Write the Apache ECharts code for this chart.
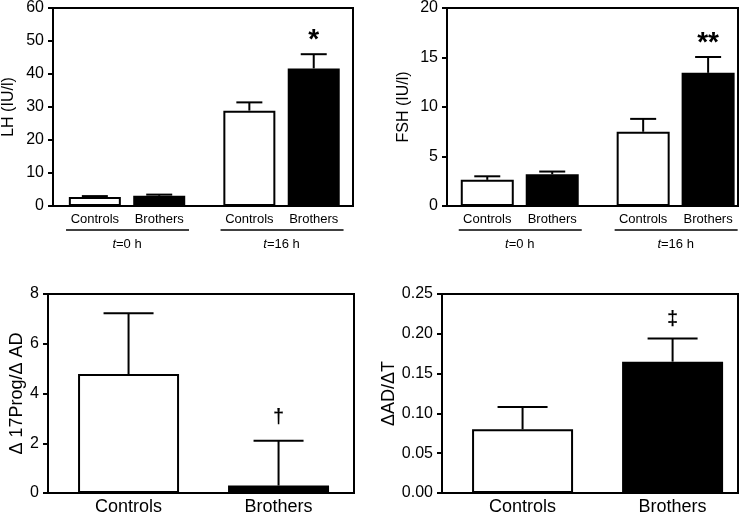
<!DOCTYPE html>
<html>
<head>
<meta charset="utf-8">
<script src="https://cdn.jsdelivr.net/npm/echarts@6/dist/echarts.min.js"></script>
<style>html,body{margin:0;padding:0;background:#fff}#c{width:750px;height:516px}</style>
</head>
<body>
<div id="c"></div>
<script>
// ---------- DATA ----------
const topCategories = ['Controls', 'Brothers', 'Controls', 'Brothers'];
const topGroups = ['t=0 h', 't=16 h'];
const lhMean = [2.7, 3.1, 28.9, 41.7];
const lhSem = [0.3, 0.35, 2.5, 4.3];
const lhMarks = ['', '', '', '*'];
const fshMean = [2.64, 3.2, 7.5, 13.45];
const fshSem = [0.36, 0.28, 1.3, 1.6];
const fshMarks = ['', '', '', '**'];
const bottomCategories = ['Controls', 'Brothers'];
const progMean = [4.78, 0.3];
const progSem = [2.45, 1.8];
const progMarks = ['', '\u2020'];
const adtMean = [0.08, 0.165];
const adtSem = [0.028, 0.029];
const adtMarks = ['', '\u2021'];
const lhTicks = [0, 60, 10];
const fshTicks = [0, 20, 5];
const progTicks = [0, 8, 2];
const adtTicks = [0, 0.25, 0.05];

// ---------- LAYOUT ----------
const FONT = '"Liberation Sans", Arial, sans-serif';

const panels = [
  {grid:{left:50, top:6, width:303, height:200}, cats:topCategories, groups:topGroups, mean:lhMean, sem:lhSem, marks:lhMarks,
   ticks:lhTicks, dec:0, name:'LH (IU/l)', nameGap:36, nameSize:16, start:0.65, groupGap:0.4, xMax:4.66, barPx:52, capPx:26,
   catSize:13, markSize:28, markOff:14},
  {grid:{left:447, top:7, width:291, height:199}, cats:topCategories, groups:topGroups, mean:fshMean, sem:fshSem, marks:fshMarks,
   ticks:fshTicks, dec:0, name:'FSH (IU/l)', nameGap:35, nameSize:16, start:0.62, groupGap:0.4, xMax:4.48, barPx:53, capPx:26,
   catSize:13, markSize:28, markOff:14},
  {grid:{left:48, top:294, width:306, height:201}, cats:bottomCategories, groups:null, mean:progMean, sem:progSem, marks:progMarks,
   ticks:progTicks, dec:0, name:'\u0394 17Prog/\u0394 AD', nameGap:22, nameSize:18, start:0.537, groupGap:0, xMax:2.04, barPx:101, capPx:50,
   catSize:18, markSize:20, markOff:23},
  {grid:{left:442, top:294, width:296, height:201}, cats:bottomCategories, groups:null, mean:adtMean, sem:adtSem, marks:adtMarks,
   ticks:adtTicks, dec:2, name:'\u0394AD/\u0394T', nameGap:41, nameSize:18, start:0.537, groupGap:0, xMax:1.973, barPx:101, capPx:50,
   catSize:18, markSize:20, markOff:19}
];

const grids = [], xAxes = [], yAxes = [], series = [];

panels.forEach((p, pi) => {
  const n = p.cats.length;
  const perGroup = p.groups ? 2 : n;
  const pos = p.cats.map((c, i) => p.start + i + Math.floor(i / perGroup) * p.groupGap);
  const colors = p.cats.map((c, i) => (i % 2 === 0 ? '#ffffff' : '#000000'));
  grids.push(Object.assign({show:true, borderColor:'#000', borderWidth:2, backgroundColor:'transparent'}, p.grid));

  const xi = xAxes.length;
  xAxes.push({
    gridIndex: pi, type:'value', min:0, max:p.xMax, position:'bottom',
    axisLine:{show:true, lineStyle:{color:'#000', width:2}},
    axisTick:{show:false}, splitLine:{show:false},
    axisLabel:{customValues: pos, color:'#000', fontFamily:FONT, fontSize:p.catSize, margin:p.groups ? 7 : 5,
      formatter: v => { const k = pos.findIndex(q => Math.abs(q - v) < 1e-6); return k >= 0 ? p.cats[k] : ''; }}
  });
  let groupCenters = [];
  if (p.groups) {
    groupCenters = p.groups.map((g, gi) => (pos[gi * 2] + pos[gi * 2 + 1]) / 2);
    xAxes.push({
      gridIndex: pi, type:'value', min:0, max:p.xMax, position:'bottom', offset:30,
      axisLine:{show:false}, axisTick:{show:false}, splitLine:{show:false},
      axisLabel:{customValues: groupCenters, color:'#000', fontFamily:FONT, fontSize:13, margin:2,
        formatter: v => { const k = groupCenters.findIndex(q => Math.abs(q - v) < 1e-6); if (k < 0) return ''; const s = p.groups[k]; return '{i|' + s.charAt(0) + '}' + s.slice(1); },
        rich:{i:{fontStyle:'italic', fontFamily:FONT, fontSize:13, color:'#000'}}}
    });
  }
  yAxes.push({
    gridIndex: pi, type:'value', min:p.ticks[0], max:p.ticks[1], interval:p.ticks[2],
    name:p.name, nameLocation:'middle', nameGap:p.nameGap, nameRotate:90,
    nameTextStyle:{color:'#000', fontFamily:FONT, fontSize:p.nameSize},
    axisLine:{show:true, lineStyle:{color:'#000', width:2}},
    axisTick:{show:true, inside:false, length:5, lineStyle:{color:'#000', width:2}},
    splitLine:{show:false},
    axisLabel:{color:'#000', fontFamily:FONT, fontSize:16, margin:9, formatter: v => v.toFixed(p.dec)}
  });

  series.push({
    type:'bar', xAxisIndex:xi, yAxisIndex:pi, barWidth:p.barPx, z:2,
    data: p.mean.map((m, i) => ({value:[pos[i], m], itemStyle:{color:colors[i], borderColor:'#000', borderWidth:2}})),
    emphasis:{disabled:true}, silent:true
  });

  series.push({
    type:'custom', xAxisIndex:xi, yAxisIndex:pi, z:3, clip:false, silent:true,
    data: p.mean.map((m, i) => [pos[i], m, p.sem[i]]),
    renderItem: (params, api) => {
      const x = api.value(0), v = api.value(1), e = api.value(2);
      const b = api.coord([x, v]);
      const t = api.coord([x, v + e]);
      const h = p.capPx / 2;
      const ch = [
        {type:'line', shape:{x1:b[0], y1:b[1], x2:t[0], y2:t[1]}, style:{stroke:'#000', lineWidth:2}},
        {type:'line', shape:{x1:t[0] - h, y1:t[1], x2:t[0] + h, y2:t[1]}, style:{stroke:'#000', lineWidth:2}}
      ];
      const mk = p.marks[params.dataIndex];
      if (mk) {
        ch.push({type:'text', style:{text:mk, x:t[0], y:t[1] - p.markOff, align:'center', verticalAlign:'middle',
          fill:'#000', font:'bold ' + p.markSize + 'px ' + FONT}});
      }
      return {type:'group', children:ch};
    }
  });

  if (p.groups) {
    series.push({
      type:'custom', xAxisIndex:xi, yAxisIndex:pi, z:3, clip:false, silent:true,
      data: groupCenters.map(c => [c, 0]),
      renderItem: (params, api) => {
        const c = api.coord([api.value(0), 0]);
        return {type:'line', shape:{x1:c[0] - 61, y1:c[1] + 24, x2:c[0] + 62, y2:c[1] + 24}, style:{stroke:'#000', lineWidth:1.5}};
      }
    });
  }
});

const chart = echarts.init(document.getElementById('c'), null, {renderer:'canvas'});
chart.setOption({animation:false, backgroundColor:'#fff', grid:grids, xAxis:xAxes, yAxis:yAxes, series:series});
</script>
</body>
</html>
